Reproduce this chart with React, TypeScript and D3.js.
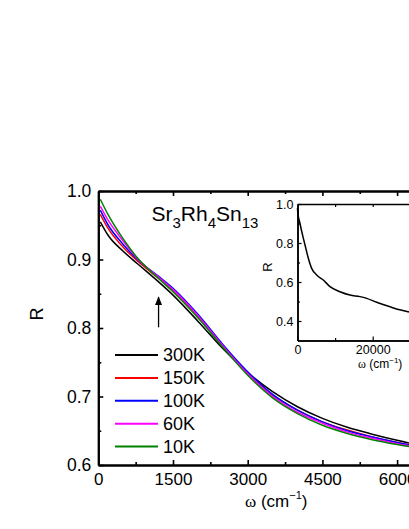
import React, { useEffect, useRef } from "react";
import * as d3 from "d3";

// main panel: reflectance spectra at different temperatures
const temps = ["300K", "150K", "100K", "60K", "10K"];
const colors = ["#000000", "#ff0000", "#0000ff", "#ff00ff", "#008000"];

const omega = [40, 200, 500, 800, 1200, 1500, 2000, 2500, 3000, 3500, 4000, 4500, 5000, 5500, 6000, 6500, 7000];
const r300 = [0.955, 0.935, 0.912, 0.893, 0.868, 0.848, 0.81, 0.77, 0.735, 0.707, 0.685, 0.668, 0.655, 0.645, 0.636, 0.628, 0.621];
const r150 = [0.966, 0.945, 0.918, 0.897, 0.873, 0.855, 0.817, 0.774, 0.734, 0.702, 0.68, 0.663, 0.651, 0.641, 0.633, 0.626, 0.62];
const r100 = [0.972, 0.95, 0.922, 0.899, 0.876, 0.858, 0.82, 0.776, 0.736, 0.703, 0.68, 0.663, 0.65, 0.641, 0.633, 0.626, 0.62];
const r60 = [0.978, 0.957, 0.927, 0.9, 0.875, 0.856, 0.818, 0.774, 0.733, 0.7, 0.677, 0.661, 0.648, 0.639, 0.631, 0.625, 0.619];
const r10 = [0.988, 0.965, 0.93, 0.901, 0.873, 0.853, 0.815, 0.772, 0.731, 0.698, 0.675, 0.658, 0.646, 0.637, 0.63, 0.624, 0.618];
const series = [r300, r150, r100, r60, r10];

const xTicks = [0, 1500, 3000, 4500, 6000, 7500];
const yTicks = [0.6, 0.7, 0.8, 0.9, 1.0];

// inset: 300K over wide range
const insetOmega = [0, 60, 665, 1540, 2000, 2880, 3770, 5100, 6870, 8640, 11300, 13960, 16600, 18400, 21060, 23000, 25500, 27500, 29500, 32000, 35000];
const insetR = [0.98, 0.96, 0.9, 0.825, 0.79, 0.722, 0.67, 0.636, 0.61, 0.576, 0.55, 0.533, 0.525, 0.516, 0.496, 0.483, 0.467, 0.456, 0.447, 0.437, 0.425];
const insetXTicks = [0, 20000, 40000];
const insetYTicks = [0.4, 0.6, 0.8, 1.0];

const arrowOmega = 1210;
const arrowR = [0.801, 0.845];

const font = "'Liberation Sans', Arial, sans-serif";

function App() {
  const ref = useRef<SVGSVGElement>(null);

  useEffect(() => {
    const svg = d3.select(ref.current);
    svg.selectAll("*").remove();

    const x = d3.scaleLinear().domain([0, 7500]).range([98.3, 98.3 + 74.7 * 5]);
    const y = d3.scaleLinear().domain([0.6, 1.0]).range([465, 191]);

    const styleAxis = (g: any, fs: number, w: number) => {
      g.select(".domain").attr("stroke-width", w);
      g.selectAll(".tick line").attr("stroke-width", w * 0.8);
      g.selectAll("text").attr("font-size", fs).attr("font-family", font).attr("fill", "#000");
    };

    // main axes
    const minorX = d3.range(750, 7500, 1500);
    const minorY = [0.65, 0.75, 0.85, 0.95];

    svg.append("g").attr("transform", `translate(0,${y(0.6)})`)
      .call(d3.axisBottom(x).tickValues(minorX).tickSize(-3).tickSizeOuter(0).tickFormat(() => ""))
      .call((g) => styleAxis(g, 17, 2));
    svg.append("g").attr("transform", `translate(0,${y(0.6)})`)
      .call(d3.axisBottom(x).tickValues(xTicks).tickSize(-5).tickSizeOuter(0).tickPadding(8).tickFormat(d3.format("d")))
      .call((g) => styleAxis(g, 17, 2));
    svg.append("g").attr("transform", `translate(0,${y(1.0)})`)
      .call(d3.axisTop(x).tickValues(minorX).tickSize(-3).tickSizeOuter(0).tickFormat(() => ""))
      .call((g) => styleAxis(g, 17, 2));
    svg.append("g").attr("transform", `translate(0,${y(1.0)})`)
      .call(d3.axisTop(x).tickValues(xTicks).tickSize(-5).tickSizeOuter(0).tickFormat(() => ""))
      .call((g) => styleAxis(g, 17, 2));
    svg.append("g").attr("transform", `translate(${x(0)},0)`)
      .call(d3.axisLeft(y).tickValues(minorY).tickSize(-3).tickSizeOuter(0).tickFormat(() => ""))
      .call((g) => styleAxis(g, 17, 2));
    svg.append("g").attr("transform", `translate(${x(0)},0)`)
      .call(d3.axisLeft(y).tickValues(yTicks).tickSize(-5).tickSizeOuter(0).tickPadding(7).tickFormat(d3.format(".1f")))
      .call((g) => styleAxis(g, 17.5, 2));

    // curves
    const line = d3.line<[number, number]>()
      .x((d) => x(d[0]))
      .y((d) => y(d[1]))
      .curve(d3.curveMonotoneX);

    svg.append("g")
      .selectAll("path")
      .data(series)
      .join("path")
      .attr("d", (s) => line(omega.map((w, i) => [w, s[i]] as [number, number])))
      .attr("fill", "none")
      .attr("stroke", (_, i) => colors[i])
      .attr("stroke-width", 1.5);

    // arrow
    svg.append("defs").append("marker")
      .attr("id", "ah").attr("viewBox", "0 0 10 10").attr("refX", 9).attr("refY", 5)
      .attr("markerWidth", 7).attr("markerHeight", 9).attr("orient", "auto")
      .append("path").attr("d", "M0,1 L10,5 L0,9 Z").attr("fill", "#000");
    svg.append("line")
      .attr("x1", x(arrowOmega)).attr("x2", x(arrowOmega))
      .attr("y1", y(arrowR[0])).attr("y2", y(arrowR[1]))
      .attr("stroke", "#000").attr("stroke-width", 1.3)
      .attr("marker-end", "url(#ah)");

    // legend
    const lg = svg.append("g").attr("transform", "translate(115,355)");
    temps.forEach((t, i) => {
      const row = lg.append("g").attr("transform", `translate(0,${i * 22.9})`);
      row.append("line").attr("x1", 0).attr("x2", 43).attr("stroke", colors[i]).attr("stroke-width", 2);
      row.append("text").attr("x", 48).attr("dy", "0.36em")
        .attr("font-family", font).attr("font-size", 18).text(t);
    });

    // title
    const title = svg.append("text").attr("x", 151.5).attr("y", 221)
      .attr("font-family", font).attr("font-size", 21);
    const parts: [string, boolean][] = [["Sr", false], ["3", true], ["Rh", false], ["4", true], ["Sn", false], ["13", true]];
    parts.forEach(([s, sub]) => {
      title.append("tspan")
        .attr("font-size", sub ? 15 : 21)
        .attr("dy", sub ? 6.5 : -6.5)
        .text(s);
    });
    title.select("tspan").attr("dy", 0);

    // axis labels
    svg.append("text").attr("transform", "translate(43,314) rotate(-90)")
      .attr("text-anchor", "middle").attr("font-family", font).attr("font-size", 18).text("R");
    const xl = svg.append("text").attr("x", 245).attr("y", 506.5)
      .attr("font-family", font).attr("font-size", 17);
    xl.append("tspan").attr("font-family", "'Liberation Serif', 'Times New Roman', serif").text("ω");
    xl.append("tspan").text(" (cm");
    xl.append("tspan").attr("font-size", 11).attr("dy", -8).text("−1");
    xl.append("tspan").attr("dy", 8).text(")");

    // inset
    const xi = d3.scaleLinear().domain([0, 40000]).range([297.5, 297.5 + 37.6 * 4]);
    const yi = d3.scaleLinear().domain([0.3, 1.0]).range([340.5, 204]);

    svg.append("rect").attr("x", xi(0)).attr("y", yi(1.0))
      .attr("width", xi(40000) - xi(0)).attr("height", yi(0.3) - yi(1.0))
      .attr("fill", "#fff").attr("stroke", "none");

    svg.append("g").attr("transform", `translate(0,${yi(0.3)})`)
      .call(d3.axisBottom(xi).tickValues([10000, 30000]).tickSize(-2.5).tickSizeOuter(0).tickFormat(() => ""))
      .call((g) => styleAxis(g, 12, 1.5));
    svg.append("g").attr("transform", `translate(0,${yi(0.3)})`)
      .call(d3.axisBottom(xi).tickValues(insetXTicks).tickSize(-4).tickSizeOuter(0).tickPadding(5).tickFormat(d3.format("d")))
      .call((g) => styleAxis(g, 12.5, 1.5));
    svg.append("g").attr("transform", `translate(0,${yi(1.0)})`)
      .call(d3.axisTop(xi).tickValues([10000, 20000, 30000]).tickSize(-3).tickSizeOuter(0).tickFormat(() => ""))
      .call((g) => styleAxis(g, 12, 1.5));
    svg.append("g").attr("transform", `translate(${xi(0)},0)`)
      .call(d3.axisLeft(yi).tickValues([0.5, 0.7, 0.9]).tickSize(-2.5).tickSizeOuter(0).tickFormat(() => ""))
      .call((g) => styleAxis(g, 12, 1.5));
    svg.append("g").attr("transform", `translate(${xi(0)},0)`)
      .call(d3.axisLeft(yi).tickValues(insetYTicks).tickSize(-4).tickSizeOuter(0).tickPadding(4).tickFormat(d3.format(".1f")))
      .call((g) => styleAxis(g, 12.5, 1.5));

    const iline = d3.line<number>()
      .x((_, i) => xi(insetOmega[i]))
      .y((d) => yi(d))
      .curve(d3.curveMonotoneX);
    svg.append("path").attr("d", iline(insetR))
      .attr("fill", "none").attr("stroke", "#000").attr("stroke-width", 1.5);

    svg.append("text").attr("transform", "translate(272,267) rotate(-90)")
      .attr("text-anchor", "middle").attr("font-family", font).attr("font-size", 13).text("R");
    const il = svg.append("text").attr("x", 358).attr("y", 368)
      .attr("font-family", font).attr("font-size", 12);
    il.append("tspan").attr("font-family", "'Liberation Serif', 'Times New Roman', serif").text("ω");
    il.append("tspan").text(" (cm");
    il.append("tspan").attr("font-size", 8).attr("dy", -5).text("−1");
    il.append("tspan").attr("dy", 5).text(")");
  }, []);

  return (
    <svg
      ref={ref}
      width={409}
      height={529}
      style={{ position: "absolute", left: 0, top: 0, background: "#fff" }}
    />
  );
}

export default App;
